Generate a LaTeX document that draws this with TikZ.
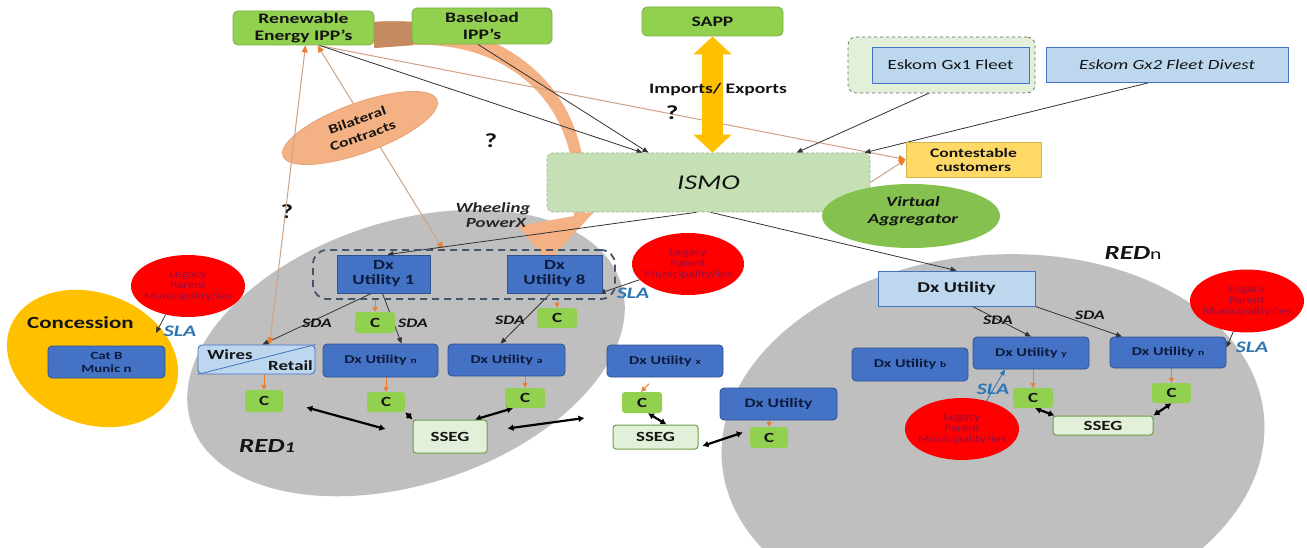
\documentclass[tikz,border=0pt]{standalone}
\usepackage{fontspec}
\setmainfont{Carlito}[FakeStretch=1.35]
\usetikzlibrary{shapes.geometric,arrows.meta,calc}

\definecolor{gfill}{HTML}{92D050}
\definecolor{gdraw}{HTML}{7BAF45}
\definecolor{bfill}{HTML}{4472C4}
\definecolor{bdraw}{HTML}{2F528F}
\definecolor{lbfill}{HTML}{BDD7EE}
\definecolor{navytext}{HTML}{0D1A3D}
\definecolor{darktext}{HTML}{141414}
\definecolor{ismofill}{HTML}{C5E0B4}
\definecolor{ismodraw}{HTML}{9FB095}
\definecolor{grpfill}{HTML}{E2F0D9}
\definecolor{contfill}{HTML}{FFD966}
\definecolor{contdraw}{HTML}{D6B24C}
\definecolor{vafill}{HTML}{84C14F}
\definecolor{bilfill}{HTML}{F4B183}
\definecolor{bildraw}{HTML}{E39B6C}
\definecolor{legred}{HTML}{FF0000}
\definecolor{legtext}{HTML}{8A1248}
\definecolor{concfill}{HTML}{FFC000}
\definecolor{regiongray}{HTML}{BFBFBF}
\definecolor{ssegfill}{HTML}{E2F0D9}
\definecolor{ssegdraw}{HTML}{6E9E4A}
\definecolor{slablue}{HTML}{2E75B6}
\definecolor{tanline}{HTML}{D0A182}
\definecolor{orangeC}{HTML}{ED7D31}
\definecolor{yellowC}{HTML}{FFC000}
\definecolor{arcorange}{HTML}{F4B183}
\definecolor{arcbrown}{HTML}{C58A62}
\definecolor{dashblue}{HTML}{44546A}
\definecolor{linegray}{HTML}{333333}

\newcommand{\fsz}[2]{\fontsize{#1}{#2}\selectfont}
\newcommand{\subl}[1]{{\fsz{8.5}{9}#1}}

\pgfdeclarelayer{back}
\pgfdeclarelayer{mid}
\pgfdeclarelayer{front}
\pgfsetlayers{back,mid,main,front}

\tikzset{
  sz/.style 2 args={minimum width=#1, minimum height=#2},
  base/.style={inner sep=0pt, align=center},
  gbox/.style={base, rounded corners=5pt, fill=gfill, draw=gdraw, line width=0.8pt,
    text=darktext, font=\fsz{14.5}{16.5}\bfseries},
  bbox/.style={base, rounded corners=4pt, fill=bfill, draw=bdraw, line width=0.8pt,
    text=navytext, font=\fsz{12}{13}\bfseries},
  dxbig/.style={base, fill=bfill, draw=bdraw, line width=0.8pt,
    text=navytext, font=\fsz{14}{15}\bfseries},
  lbbox/.style={base, fill=lbfill, draw=bfill, line width=0.9pt,
    text=darktext, font=\fsz{14}{15}},
  grpbox/.style={base, rounded corners=8pt, fill=grpfill, draw=black!60, dashed, line width=0.7pt},
  grpdash/.style={base, rounded corners=14pt, draw=dashblue, dash pattern=on 7pt off 5pt, line width=1.8pt},
  ismobox/.style={base, rounded corners=6pt, fill=ismofill, draw=ismodraw, densely dashed,
    line width=0.6pt, text=darktext, font=\fsz{21}{21}\itshape},
  contbox/.style={base, fill=contfill, draw=contdraw, line width=0.6pt,
    text=darktext, font=\fsz{13}{14}\bfseries},
  vaell/.style={base, ellipse, fill=vafill},
  bilell/.style={base, ellipse, fill=bilfill, draw=bildraw, line width=0.6pt,
    text=darktext, font=\fsz{13}{16.5}\bfseries},
  cbox/.style={base, rounded corners=3pt, fill=gfill, text=darktext, font=\fsz{14}{14}\bfseries},
  ssegbox/.style={base, rounded corners=3pt, fill=ssegfill, draw=ssegdraw, line width=1pt,
    text=darktext, font=\fsz{14}{14}\bfseries},
  legacy/.style={base, ellipse, fill=legred},
  legtxt/.style={base, text=legtext, font=\fsz{10}{10.8}},
  region/.style={base, ellipse, fill=regiongray},
  sla/.style={inner sep=0pt, text=slablue, font=\fsz{16}{16}\bfseries\itshape},
  sda/.style={inner sep=0pt, text=darktext, font=\fsz{13}{13}\bfseries\itshape},
  qmark/.style={inner sep=0pt, text=darktext, font=\fsz{20}{20}\bfseries},
  wrtext/.style={inner sep=0pt, text=darktext, font=\fsz{14}{14}\bfseries},
  redlabel/.style={inner sep=0pt, text=darktext, font=\fsz{20}{20}\bfseries\itshape},
  plain/.style={inner sep=0pt, align=center, text=darktext},
  link/.style={draw=linegray, line width=0.8pt, -{Triangle[length=6pt,width=5pt]}},
  tanlink/.style={draw=tanline, line width=1pt},
  tanone/.style={tanlink, -{Triangle[length=7pt,width=6pt,color=orangeC]}},
  tantwo/.style={tanlink, {Triangle[length=7pt,width=6pt,color=orangeC]}-{Triangle[length=7pt,width=6pt,color=orangeC]}},
  odrop/.style={draw=orangeC, line width=1pt, -{Triangle[length=5pt,width=5pt]}},
  dbl/.style={draw=black, line width=2.2pt, {Latex[length=6pt,width=7pt]}-{Latex[length=6pt,width=7pt]}},
}

\def\arcband{(374,22) .. controls (482,14) and (596,70) .. (585,213) -- (594,212) -- (548,262)
  -- (518,226) -- (574,216) .. controls (584,100) and (505,42) .. (415,45) -- (374,48) -- cycle}

\begin{document}
\begin{tikzpicture}[x=1pt,y=-1pt]
\useasboundingbox (0,0) rectangle (1307,548);

% ---------- regions ----------
\begin{pgfonlayer}{back}
  \fill[white] (0,0) rectangle (1307,548);
  \node[region, sz={452}{263}, rotate=18] (red1area) at (406,353) {};
  \node[region, sz={544}{370}, rotate=5] (rednarea) at (993,440) {};
  \node[base, ellipse, fill=concfill, sz={176}{131}, rotate=-20.5] (concarea) at (92.5,358.5) {};
\end{pgfonlayer}

% ---------- curved wheeling arrow ----------
\begin{pgfonlayer}{mid}
  \fill[arcorange] \arcband;
  \begin{scope}
    \clip (370,0) rectangle (413,70);
    \fill[arcbrown] \arcband;
  \end{scope}
\end{pgfonlayer}

% ---------- generation and market ----------
\node[gbox, sz={141}{34}] (rei) at (303.5,28) {Renewable\\Energy IPP’s};
\node[gbox, sz={140}{36}] (bipp) at (482,26) {Baseload\\IPP’s};
\node[gbox, sz={141}{29}] (sapp) at (712.5,21.5) {SAPP};

\node[grpbox, sz={187}{56}] (gxgrp) at (941.5,65) {};
\node[lbbox, sz={157}{36}] (gx1) at (950.5,65) {Eskom Gx1 Fleet};
\node[lbbox, sz={242}{35}, font=\fsz{14}{15}\itshape] (gx2) at (1167,64.5) {Eskom Gx2 Fleet Divest};

\node[ismobox, sz={323}{59}] (ismo) at (708.5,182.5) {ISMO};
\node[contbox, sz={135}{35}] (cont) at (973.5,159.5) {Contestable\\customers};
\node[vaell, sz={178}{64}] (va) at (911,216) {};
\node[plain, font=\fsz{14}{16.5}\bfseries\itshape] (vat) at (913,211.5) {Virtual\\Aggregator};
\node[bilell, sz={164}{50}, rotate=20] (bil) at (360,128) {Bilateral\\Contracts};

\draw[yellowC, line width=21pt, {Triangle[length=18pt,width=37pt]}-{Triangle[length=18pt,width=37pt]}]
  (sapp.south) -- (sapp.south |- ismo.north);

\node[qmark] (q1) at (672,113) {?};
\node[qmark] (q2) at (491,141) {?};
\node[qmark] (q3) at (287,212) {?};
\node[plain, font=\fsz{14}{15}\bfseries\itshape, text=black!85] (wheel) at (493,215.5) {Wheeling\\\hspace*{6pt}PowerX};

% ---------- legacy municipalities ----------
\node[legacy, sz={114}{62}] (leg1) at (188,286) {};
\node[legtxt] (leg1t) at (leg1.center) {Legacy\\Parent\\Municipality/ies};
\node[legacy, sz={112}{62}] (leg2) at (688,264) {};
\node[legtxt] (leg2t) at (leg2.center) {Legacy\\Parent\\Municipality/ies};
\node[legacy, sz={114}{63}] (leg3) at (1247,301) {};
\node[legtxt] (leg3t) at (leg3.center) {Legacy\\Parent\\Municipality/ies};
\node[legacy, sz={114}{62}] (leg4) at (962,429) {};
\node[legtxt] (leg4t) at (leg4.center) {Legacy\\Parent\\Municipality/ies};

% ---------- concession ----------
\node[plain, font=\fsz{17}{17}\bfseries] (conct) at (80.5,323) {Concession};
\node[bbox, sz={117}{32}, font=\fsz{11}{13}\bfseries] (catb) at (106.5,362) {Cat B\\Munic n};
\coordinate (slaC) at (156,333);
\node[sla] (sla1) at (180,331) {SLA};

% ---------- RED 1 ----------
\node[grpdash, sz={302}{49}] (grp) at (464,274.5) {};
\node[dxbig, sz={93}{38}] (dx1) at (383.5,274) {Dx\\Utility 1};
\node[dxbig, sz={95}{38}] (dx8) at (554.5,274) {Dx\\Utility 8};
\node[sla] (sla2) at (633,293) {SLA};
\node[cbox, sz={40}{21}] (c1) at (375,322.5) {C};
\node[cbox, sz={40}{20}] (c8) at (557,318) {C};

\node[base, rounded corners=4pt, fill=lbfill, draw=bfill, line width=0.9pt, sz={117}{29}] (wires) at (256.5,359.5) {};
\draw[bfill, line width=0.8pt] (wires.south west) -- (wires.north east);
\node[wrtext] (wirest) at (230,355) {Wires};
\node[wrtext] (retailt) at (290.5,366) {Retail};

\node[bbox, sz={115}{33}] (dxn) at (380.5,360.5) {Dx Utility \subl{n}};
\node[bbox, sz={117}{32}] (dxa) at (506.5,360) {Dx Utility \subl{a}};
\node[bbox, sz={116}{32}] (dxx) at (665,361) {Dx Utility \subl{x}};

\node[cbox, sz={38}{22}] (cw) at (264,401) {C};
\node[cbox, sz={38}{20}] (cn) at (386,402) {C};
\node[cbox, sz={40}{20}] (ca) at (525,398) {C};
\node[cbox, sz={40}{21}] (cx) at (642,402.5) {C};
\node[ssegbox, sz={74}{33}] (sseg1) at (450,436.5) {SSEG};
\node[ssegbox, sz={85}{24}] (sseg2) at (655.5,437) {SSEG};
\node[bbox, sz={117}{32}, font=\fsz{13}{13}\bfseries] (dxm) at (778.5,404) {Dx Utility};
\node[cbox, sz={38}{21}] (cm) at (769,437.5) {C};

\node[sda] (sda1) at (317,323) {SDA};
\node[sda] (sda2) at (413,323) {SDA};
\node[sda] (sda3) at (510,320) {SDA};
\node[redlabel] (red1t) at (267,446) {RED{\fsz{15}{15}1}};

% ---------- RED n ----------
\node[lbbox, sz={157}{35}, font=\fsz{15}{15}\bfseries] (dxr) at (956.5,288.5) {Dx Utility};
\node[bbox, sz={116}{33}] (dxb) at (910,364.5) {Dx Utility \subl{b}};
\node[bbox, sz={116}{32}] (dxy) at (1031,353) {Dx Utility \subl{y}};
\node[bbox, sz={116}{31}] (dxrn) at (1168,352.5) {Dx Utility \subl{n}};
\node[cbox, sz={40}{20}] (cy) at (1033,398) {C};
\node[cbox, sz={39}{20}] (crn) at (1171.5,393) {C};
\node[ssegbox, sz={100}{19}] (sseg3) at (1103,425.5) {SSEG};
\node[sda] (sda4) at (998,320) {SDA};
\node[sda] (sda5) at (1090,315) {SDA};
\node[sla] (sla3) at (1252,347) {SLA};
\node[sla] (sla4) at (993,389) {SLA};
\node[redlabel] (rednt) at (1133,253) {RED{\normalfont\fsz{16}{16}n}};

% ---------- connectors ----------
\begin{pgfonlayer}{mid}
  \draw[tantwo] ([xshift=14pt]rei.south) -- ([xshift=-21pt]grp.north);
  \draw[tanone] ([xshift=15pt]rei.south) -- (cont.west);
  \draw[tanone] (ismo.east) -- (cont.west);
  \draw[link] ([xshift=16pt]rei.south) -- ([xshift=-66pt]ismo.north);
  \draw[link] ([xshift=-4pt]bipp.south) -- ([xshift=-60pt]ismo.north);
  \draw[link] (gx1.south) -- ([xshift=88pt]ismo.north);
  \draw[link] ([xshift=-17pt]gx2.south) -- ([xshift=156pt]ismo.north);
  \draw[link] ([xshift=-12pt]ismo.south) -- ([xshift=4pt]dx1.north);
  \draw[link] ([xshift=2pt]ismo.south) -- (dxr.north);

  \draw[link] ([xshift=-12pt]dx1.south) -- ([xshift=6pt]wires.north);
  \draw[link] ([xshift=-1pt]dx1.south) -- ([xshift=21pt]dxn.north);
  \draw[link] ([xshift=-4pt]dx8.south) -- ([xshift=-6pt]dxa.north);
  \draw[link] ([xshift=16pt]dxr.south) -- (dxy.north);
  \draw[link] (dxr.south east) -- ([xshift=-46pt]dxrn.north);

  \draw[link] (leg1.232) -- (slaC);
  \draw[link] (leg2.198) -- ([xshift=-3pt]dx8.south east);
  \draw[link] (leg3.246) -- ([yshift=5pt]dxrn.east);
  \draw[link, draw=slablue] (leg4.49) -- ([xshift=-26pt]dxy.south);

  \draw[odrop] ($(c1.north)+(0,-13)$) -- (c1.north);
  \draw[odrop] ($(c8.north)+(0,-9)$) -- (c8.north);
  \draw[odrop] (cw.north |- wires.south) -- (cw.north);
  \draw[odrop] (cn.north |- dxn.south) -- (cn.north);
  \draw[odrop] (ca.north |- dxa.south) -- (ca.north);
  \draw[odrop] ($(cx.north)+(7,-8)$) -- ([xshift=-1pt]cx.north);
  \draw[odrop] (cm.north |- dxm.south) -- (cm.north);
  \draw[odrop] (cy.north |- dxy.south) -- (cy.north);
  \draw[odrop] (crn.north |- dxrn.south) -- (crn.north);

  \draw[dbl, shorten <=24pt, shorten >=28pt] (cw.east) -- (sseg1.west);
  \draw[dbl] (cn.south east) -- (sseg1.north west);
  \draw[dbl] ([xshift=-12pt]ca.south) -- ([xshift=25pt]sseg1.north);
  \draw[dbl] ([xshift=20pt,yshift=8pt]sseg1.east) -- ([xshift=-28pt,yshift=19pt]sseg2.west);
  \draw[dbl] ([xshift=6pt]cx.south) -- ([xshift=11pt]sseg2.north);
  \draw[dbl] ([xshift=4pt,yshift=-9pt]sseg2.east) -- ([xshift=-7pt,yshift=5pt]cm.west);
  \draw[dbl] ([xshift=2pt]cy.south) -- ([xshift=2pt]sseg3.north west);
  \draw[dbl] (crn.south) -- (sseg3.north east);
\end{pgfonlayer}

\begin{pgfonlayer}{front}
  \draw[tantwo] ([xshift=2pt]rei.south) -- ([xshift=13pt]wires.north);
  \node[plain, font=\fsz{14.5}{15}\bfseries] (impexp) at (718,90) {Imports/ Exports};
\end{pgfonlayer}
\end{tikzpicture}
\end{document}
